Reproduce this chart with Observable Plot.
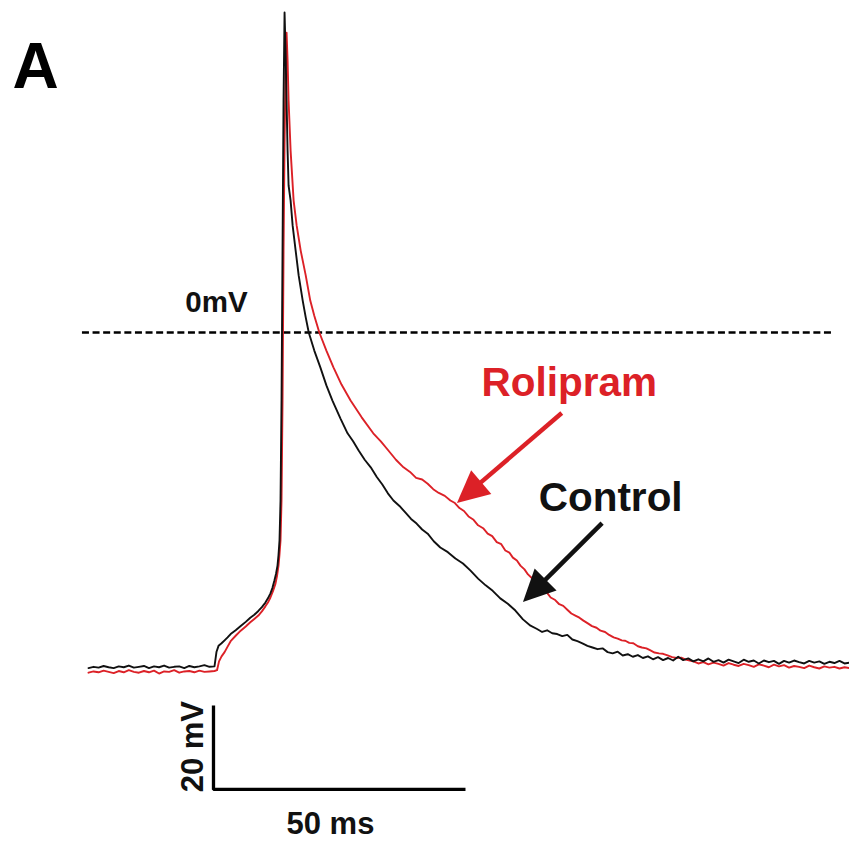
<!DOCTYPE html>
<html>
<head>
<meta charset="utf-8">
<script src="https://cdn.jsdelivr.net/npm/d3@7"></script>
<script src="https://cdn.jsdelivr.net/npm/@observablehq/plot@0.6"></script>
<style>
  html, body { margin: 0; padding: 0; background: #fff; }
  svg { display: block; }
</style>
</head>
<body>
<script>
// ---------- data (time in ms relative to stimulus, membrane potential in mV) ----------
const controlTime = [
  -25,-24,-23,-22,-21,-20,-19,-18,-17,-16,-15,-14,-13,-12,-11,-10,-9,-8,-7,-6,-5,-4,-3,-2,-1,0,
  0.4,0.8,1.4,2.0,2.6,3.2,4.2,5.2,6.2,7.1,7.9,8.7,9.4,10.1,10.6,11.1,11.5,11.9,12.2,12.5,12.7,12.9,13.1,13.3,13.5,13.7,13.9,
  14.1,14.3,14.5,14.7,15.1,15.5,16.1,16.7,17.5,18.1,18.7,19.8,21.0,22.2,23.4,25.0,26.4,27.5,28.6,29.8,31.0,32.2,33.3,34.4,35.5,36.7,37.9,39.0,40.1,41.2,42.3,43.5,44.8,46.3,47.8,49.3,50.8,52.3,53.8,55.2,56.7,58.2,59.7,61.2,62.7,
  64,65,66,67,68,69,70,71,72,73,74,75,76,77,78,79,80,81,82,83,84,85,86,87,88,89,90,91,92,93,94,95,
  96,97,98,99,100,101,102,103,104,105,106,107,108,109,110,111,112,113,114,115,116,117,118,119,120,121,122,123,124,125,126
];
const controlVoltage = [
  -79.9,-79.6,-79.8,-79.4,-79.7,-79.9,-79.5,-79.7,-79.3,-79.8,-79.6,-79.4,-79.9,-79.5,-79.7,-79.3,-79.8,-79.6,-79.5,-79.9,-79.4,-79.7,-79.5,-79.2,-79.6,-79.5,
  -76.0,-74.6,-74.0,-73.3,-72.6,-71.8,-70.9,-69.9,-68.9,-67.9,-67.2,-66.3,-65.4,-64.3,-63.3,-62.1,-60.8,-59.0,-57.5,-55.5,-53.0,-49.5,-40.0,-16.2,19.5,55.2,76.2,
  67.1,55.2,43.3,35.0,31.4,25.5,19.5,13.6,7.6,3.6,0,-4.3,-8.3,-12.6,-16.2,-20.5,-24.0,-25.9,-28.1,-30.3,-32.1,-34.4,-36.2,-38.3,-40.0,-41.3,-42.9,-44.4,-45.5,-46.9,-47.9,-49.7,-51.2,-52.3,-53.8,-55.0,-56.7,-58.6,-60.2,-61.5,-63.3,-64.6,-66.2,-68.3,-69.8,
  -70.6,-71.3,-70.9,-71.6,-71.8,-72.3,-72.0,-73.1,-73.5,-74.0,-74.6,-75.0,-75.4,-75.2,-76.1,-76.4,-76.0,-76.9,-76.6,-77.2,-76.8,-77.5,-77.1,-77.8,-77.3,-78.0,-77.5,-78.1,-77.2,-78.0,-77.6,-78.3,
  -77.8,-78.3,-77.6,-78.4,-78.0,-78.6,-77.9,-78.3,-78.7,-77.9,-78.4,-78.1,-78.8,-78.1,-78.5,-78.2,-78.9,-78.2,-78.6,-78.1,-78.5,-78.8,-78.2,-78.6,-78.3,-78.9,-78.4,-78.7,-78.2,-78.8,-78.6
];

const rolipramTime = [
  -25,-24,-23,-22,-21,-20,-19,-18,-17,-16,-15,-14,-13,-12,-11,-10,-9,-8,-7,-6,-5,-4,-3,-2,-1,0,
  0.5,0.9,1.4,2.0,2.6,3.2,4.2,5.2,6.2,7.1,7.9,8.7,9.4,10.1,10.6,11.1,11.6,12.1,12.4,12.7,12.9,13.1,13.3,13.5,13.7,13.9,14.1,14.3,
  14.5,14.7,15.1,15.7,16.3,17.1,18.1,19.0,19.8,20.8,22.2,23.6,25.2,27.0,29.2,31.5,33.0,34.5,36.0,37.5,38.8,40.0,41.2,42.3,43.4,44.5,45.7,46.8,47.7,48.6,49.5,50.4,51.4,52.3,53.3,54.2,55.1,56.0,56.9,57.7,58.5,59.2,60.0,60.7,61.5,62.2,63.0,63.7,64.5,65.2,66.0,66.7,67.6,68.4,69.2,70.0,70.8,71.6,72.4,73.2,74.0,74.9,75.8,76.6,77.5,78.3,79.2,80.0,80.8,81.5,82.3,83.1,84.0,84.8,85.7,86.5,87.3,88.2,89.0,89.9,90.8,91.7,92.6,93.5,94.3,
  95,96,97,98,99,100,101,102,103,104,105,106,107,108,109,110,111,112,113,114,115,116,117,118,119,120,121,122,123,124,125,126
];
const rolipramVoltage = [
  -81.0,-80.7,-80.9,-80.5,-80.8,-81.1,-80.6,-80.9,-80.4,-80.8,-81.0,-80.6,-80.9,-80.5,-81.2,-80.7,-80.8,-80.4,-81.0,-80.7,-80.6,-80.9,-80.5,-80.8,-80.7,-80.6,
  -80.4,-78.3,-77.1,-76.1,-74.8,-73.5,-72.2,-71.0,-70.0,-69.0,-68.2,-67.4,-66.4,-65.2,-64.3,-63.1,-61.6,-59.8,-58.0,-55.5,-52.8,-49.5,-40.0,-16.2,19.5,45.0,62.0,71.4,
  64.8,55.2,43.3,31.4,25.5,19.5,13.6,7.6,4.0,0,-4.3,-8.3,-12.4,-16.2,-20.2,-24.0,-25.9,-28.1,-30.3,-32.1,-33.2,-34.6,-35.0,-36.0,-37.3,-38.2,-38.9,-40.0,-40.6,-41.8,-42.5,-43.8,-44.6,-45.9,-46.6,-47.9,-48.5,-49.9,-50.4,-51.9,-52.4,-53.6,-54.3,-55.5,-56.4,-57.6,-58.5,-59.8,-60.4,-61.5,-62.0,-63.1,-63.7,-64.7,-65.1,-66.0,-66.9,-67.4,-67.9,-68.6,-69.2,-69.9,-70.3,-71.0,-71.3,-72.0,-72.6,-72.9,-73.3,-73.4,-73.9,-74.0,-74.7,-75.0,-75.2,-75.7,-76.2,-76.4,-76.5,-76.9,-77.3,-77.5,-77.4,-77.9,-78.1,
  -78.3,-78.8,-78.5,-79.0,-78.6,-78.9,-79.3,-78.7,-79.1,-79.4,-78.9,-79.2,-79.6,-79.0,-79.3,-79.7,-79.1,-79.5,-79.2,-79.8,-79.4,-79.6,-79.9,-79.3,-79.7,-80.0,-79.5,-79.8,-79.6,-80.0,-79.7,-79.9
];

// annotations
const seriesNames = ["Rolipram", "Control"];
const seriesColors = ["#dc2127", "#111111"];
const labelTime = [70.4, 78.6];
const labelVoltage = [-15.2, -42.4];
const arrowStartTime = [69.0, 77.0];
const arrowStartVoltage = [-19.3, -45.5];
const arrowTipTime = [48.2, 61.3];
const arrowTipVoltage = [-40.7, -64.3];

const zeroLabel = "0mV";
const zeroLabelPos = [0.4, 4.8];
const zeroLineRange = [-26.2, 122.6];

const panelLabel = "A";
const panelLabelPos = [-35.5, 58.3];

const scaleBarOrigin = [-0.2, -108.8];
const scaleBarMs = 50;
const scaleBarMv = 20;
const scaleBarTimeLabel = "50 ms";
const scaleBarVoltLabel = "20 mV";
const timeLabelPos = [23.0, -119.3];
const voltLabelPos = [-2.2, -98.6];

// ---------- build tables ----------
const control = controlTime.map((t, i) => ({t, v: controlVoltage[i]}));
const rolipram = rolipramTime.map((t, i) => ({t, v: rolipramVoltage[i]}));
const labels = seriesNames.map((name, i) => ({name, t: labelTime[i], v: labelVoltage[i], color: seriesColors[i]}));
const arrows = seriesNames.map((name, i) => ({
  name, color: seriesColors[i],
  t1: arrowStartTime[i], v1: arrowStartVoltage[i],
  t2: arrowTipTime[i], v2: arrowTipVoltage[i]
}));
const scaleBar = [
  {t: scaleBarOrigin[0], v: scaleBarOrigin[1] + scaleBarMv},
  {t: scaleBarOrigin[0], v: scaleBarOrigin[1]},
  {t: scaleBarOrigin[0] + scaleBarMs, v: scaleBarOrigin[1]}
];

const FONT = "'Liberation Sans', Arial, Helvetica, sans-serif";

// custom filled-arrow mark using the plot's scales
function filledArrows(index, scales) {
  const g = d3.create("svg:g");
  for (const a of arrows) {
    const x1 = scales.x(a.t1), y1 = scales.y(a.v1);
    const x2 = scales.x(a.t2), y2 = scales.y(a.v2);
    const dx = x2 - x1, dy = y2 - y1, len = Math.hypot(dx, dy);
    const ux = dx / len, uy = dy / len;
    const L = 32, W = 15.5;
    const bx = x2 - ux * L, by = y2 - uy * L;
    g.append("line")
      .attr("x1", x1).attr("y1", y1)
      .attr("x2", bx + ux * 2).attr("y2", by + uy * 2)
      .attr("stroke", a.color).attr("stroke-width", 4.5);
    g.append("polygon")
      .attr("points", [
        [x2, y2],
        [bx - uy * W, by + ux * W],
        [bx + uy * W, by - ux * W]
      ].map(p => p.join(",")).join(" "))
      .attr("fill", a.color);
  }
  return g.node();
}

const chart = Plot.plot({
  width: 849,
  height: 841,
  margin: 0,
  x: {domain: [-214 / 5.04, (849 - 214) / 5.04], axis: null},
  y: {domain: [(332 - 841) / 4.2, 332 / 4.2], axis: null},
  style: {background: "#fff", fontFamily: FONT},
  marks: [
    Plot.ruleY([0], {x1: zeroLineRange[0], x2: zeroLineRange[1], stroke: "#000", strokeWidth: 2.6, strokeDasharray: "7,3.6"}),
    Plot.line(rolipram, {x: "t", y: "v", stroke: seriesColors[0], strokeWidth: 1.9}),
    Plot.line(control, {x: "t", y: "v", stroke: seriesColors[1], strokeWidth: 1.9}),
    Plot.line(scaleBar, {x: "t", y: "v", stroke: "#000", strokeWidth: 3.3, strokeLinejoin: "miter", strokeLinecap: "butt"}),
    filledArrows,
    Plot.text(labels, {x: "t", y: "v", text: "name", fill: "color", fontSize: 40.5, fontWeight: "bold", fontFamily: FONT, textAnchor: "middle", lineAnchor: "bottom"}),
    Plot.text([zeroLabel], {x: [zeroLabelPos[0]], y: [zeroLabelPos[1]], text: d => d, fill: "#111", fontSize: 29.5, fontWeight: "bold", fontFamily: FONT, textAnchor: "middle", lineAnchor: "bottom"}),
    Plot.text([panelLabel], {x: [panelLabelPos[0]], y: [panelLabelPos[1]], text: d => d, fill: "#000", fontSize: 64, fontWeight: "bold", fontFamily: FONT, textAnchor: "middle", lineAnchor: "bottom"}),
    Plot.text([scaleBarTimeLabel], {x: [timeLabelPos[0]], y: [timeLabelPos[1]], text: d => d, fill: "#111", fontSize: 31, fontWeight: "bold", fontFamily: FONT, textAnchor: "middle", lineAnchor: "bottom"}),
    Plot.text([scaleBarVoltLabel], {x: [voltLabelPos[0]], y: [voltLabelPos[1]], text: d => d, fill: "#111", fontSize: 31, fontWeight: "bold", fontFamily: FONT, textAnchor: "middle", lineAnchor: "bottom", rotate: -90})
  ]
});
document.body.appendChild(chart);
</script>
</body>
</html>
